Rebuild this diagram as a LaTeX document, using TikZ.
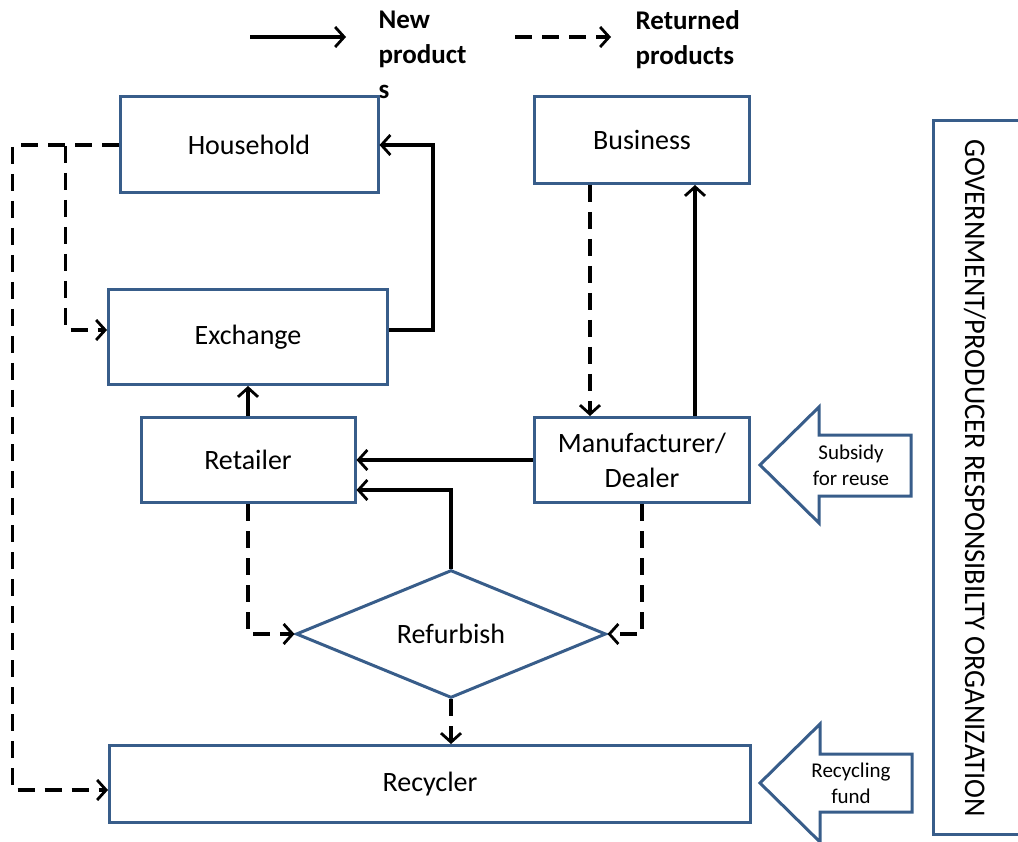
\documentclass[tikz,border=0pt]{standalone}
\usepackage{fontspec}
\setmainfont{Carlito}
\usetikzlibrary{arrows.meta,shapes.geometric}
\definecolor{boxblue}{RGB}{56,93,138}
\begin{document}
\begin{tikzpicture}[
    x=1pt, y=-1pt,
    every node/.style={font=\fontsize{28}{35}\selectfont},
    box/.style={draw=boxblue, line width=3pt, rectangle, align=center, inner sep=0pt},
    newflow/.style={line width=3.2pt, -{Straight Barb[length=9pt,width=20pt,line width=2.8pt]}},
    oldflow/.style={newflow, dash pattern=on 17pt off 10pt},
    fundarrow/.style={draw=boxblue, line width=3pt, fill=white, line join=miter}
]
  \useasboundingbox (0,0) rectangle (1018,842);

  % legend
  \coordinate (newa) at (250,37);
  \coordinate (newb) at (346,37);
  \coordinate (olda) at (515,37);
  \coordinate (oldb) at (611,37);
  \draw[newflow] (newa) -- (newb);
  \draw[oldflow] (olda) -- (oldb);
  \node[anchor=north west, align=left, font=\fontsize{27}{35}\selectfont\bfseries] (newtxt) at (375,7) {New\\product\\s};
  \node[anchor=north west, align=left, font=\fontsize{27}{35}\selectfont\bfseries] (oldtxt) at (632,7) {Returned\\products};

  % boxes
  \node[box, minimum width=258pt, minimum height=96pt] (house) at (249,145) {Household};
  \node[box, minimum width=215pt, minimum height=87pt] (biz) at (642,140) {Business};
  \node[box, minimum width=279pt, minimum height=95pt] (exch) at (248,337) {Exchange};
  \node[box, minimum width=214pt, minimum height=85pt] (ret) at (248,460) {Retailer};
  \node[box, minimum width=215pt, minimum height=85pt] (mfr) at (642,460) {Manufacturer/\\Dealer};
  \node[draw=boxblue, line width=3pt, diamond, minimum width=310pt, minimum height=127pt, inner sep=0pt] (refurb) at (451,634) {Refurbish};
  \node[box, minimum width=641pt, minimum height=77pt] (recyc) at (430,784) {Recycler};

  % new products
  \draw[newflow] ([yshift=7pt]exch.east) -- ++(44,0) |- (house.east);
  \draw[newflow] ([xshift=53pt]mfr.north) -- ([xshift=53pt]mfr.north |- biz.south);
  \draw[newflow] (mfr.west) -- (mfr.west -| ret.east);
  \draw[newflow] (refurb.north) |- ([yshift=-30pt]ret.east);
  \draw[newflow] (ret.north) -- (exch.south);

  % returned products
  \draw[oldflow] ([xshift=-52pt]biz.south) -- ([xshift=-52pt]biz.south |- mfr.north);
  \draw[oldflow] (ret.south) |- (refurb.west);
  \draw[oldflow] (mfr.south) |- (refurb.east);
  \draw[oldflow] (refurb.south) -- (refurb.south |- recyc.north);
  \draw[oldflow] (house.west) -- ++(-53,0) |- ([yshift=7pt]exch.west);
  \draw[oldflow] (house.west) -- ++(-106,0) |- ([yshift=-6pt]recyc.west);

  % funding arrows
  \draw[fundarrow] (760,465) -- (819,407) -- (819,435) -- (911,435) -- (911,496) -- (819,496) -- (819,523) -- cycle;
  \node[align=center, font=\fontsize{21}{26}\selectfont] (subsidy) at (851,465) {Subsidy\\for reuse};
  \draw[fundarrow] (760,783) -- (820,724) -- (820,754) -- (912,754) -- (912,812) -- (820,812) -- (820,842) -- cycle;
  \node[align=center, font=\fontsize{21}{26}\selectfont] (fund) at (851,783) {Recycling\\fund};

  % organization
  \node[box, minimum width=100pt, minimum height=714pt, anchor=north west] (gov) at (932,119) {};
  \node[rotate=-90, font=\fontsize{30}{36}\selectfont] (govtxt) at (975,478) {\scalebox{0.95}[1]{GOVERNMENT/PRODUCER RESPONSIBILTY ORGANIZATION}};
\end{tikzpicture}
\end{document}
